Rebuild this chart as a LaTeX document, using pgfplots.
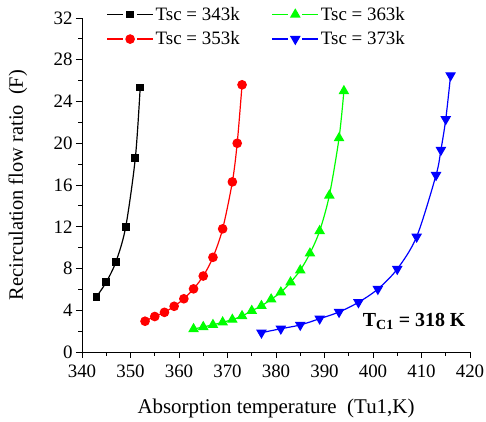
\documentclass[border=0pt]{standalone}
\usepackage{fontspec}
\setmainfont{Liberation Serif}
\usepackage{pgfplots}
\pgfplotsset{compat=1.18}
\begin{document}
\begin{tikzpicture}
\useasboundingbox (-82bp,-70bp) rectangle (404bp,352bp);
\begin{axis}[
  at={(0,0)}, anchor=south west,
  scale only axis, width=388bp, height=334bp,
  xmin=340, xmax=420, ymin=0, ymax=32,
  axis x line*=bottom, axis y line*=left,
  xtick={340,350,...,420}, ytick={0,4,...,32},
  minor x tick num=1, minor y tick num=1,
  tick align=outside,
  major tick length=6bp, minor tick length=3.5bp,
  tick style={black, line width=0.8bp},
  axis line style={line width=0.8bp},
  tick label style={font=\fontsize{19}{19}\selectfont},
  xticklabel style={yshift=-3bp},
  /pgf/number format/assume math mode=true,
  xlabel={Absorption temperature~~(Tu1,K)},
  ylabel={Recirculation flow ratio~~(F)},
  every axis x label/.style={at={(axis description cs:0.5,-0.168)}, anchor=center, font=\fontsize{21}{21}\selectfont},
  every axis y label/.style={at={(axis description cs:-0.165,0.5)}, anchor=center, rotate=90, font=\fontsize{20.5}{20.5}\selectfont},
  clip=false,
  legend columns=2, transpose legend,
  legend cell align=left,
  legend style={at={(axis description cs:0.055,1.045)}, anchor=north west, draw=none, fill=none,
    font=\fontsize{19}{19}\selectfont, row sep=6bp,
    /tikz/every even column/.style={column sep=30bp}},
  legend image code/.code={
    \draw[#1, mark=none] (0bp,0bp) -- (16bp,0bp) (30bp,0bp) -- (46bp,0bp);
    \draw[mark repeat=2,mark phase=2,#1] plot coordinates {(22bp,0bp)(23bp,0bp)(24bp,0bp)};},
]
\addplot[black, line width=1.2bp, smooth, mark=square*, mark size=3.3bp] coordinates {
(343,5.3)(345,6.7)(347,8.65)(349,11.95)(351,18.6)(352,25.35)};
\addlegendentry{Tsc = 343k}
\addplot[red, line width=1.2bp, smooth, mark=*, mark size=4.2bp] coordinates {
(353,2.95)(355,3.4)(357,3.8)(359,4.38)(361,5.1)(363,6.05)(365,7.28)(367,9.07)(369,11.8)(371,16.3)(372,20.0)(373,25.6)};
\addlegendentry{Tsc = 353k}
\addplot[green, line width=1.2bp, smooth, mark=triangle*, mark size=5bp] coordinates {
(363,2.2)(365,2.4)(367,2.6)(369,2.85)(371,3.1)(373,3.45)(375,3.95)(377,4.42)(379,5.05)(381,5.72)(383,6.68)(385,7.83)(387,9.45)(389,11.6)(391,15.0)(393,20.5)(394,25.0)};
\addlegendentry{Tsc = 363k}
\addplot[blue, line width=1.2bp, smooth, mark=triangle*, mark size=5bp, mark options={rotate=180}] coordinates {
(377,1.85)(381,2.23)(385,2.59)(389,3.19)(393,3.83)(397,4.76)(401,6.03)(405,7.95)(409,11.04)(413,16.95)(414,19.35)(415,22.3)(416,26.5)};
\addlegendentry{Tsc = 373k}
\node[anchor=west, font=\fontsize{20}{20}\selectfont\bfseries] at (axis cs:397.2,2.9) {T\textsubscript{C1} = 318 K};
\end{axis}
\end{tikzpicture}
\end{document}
